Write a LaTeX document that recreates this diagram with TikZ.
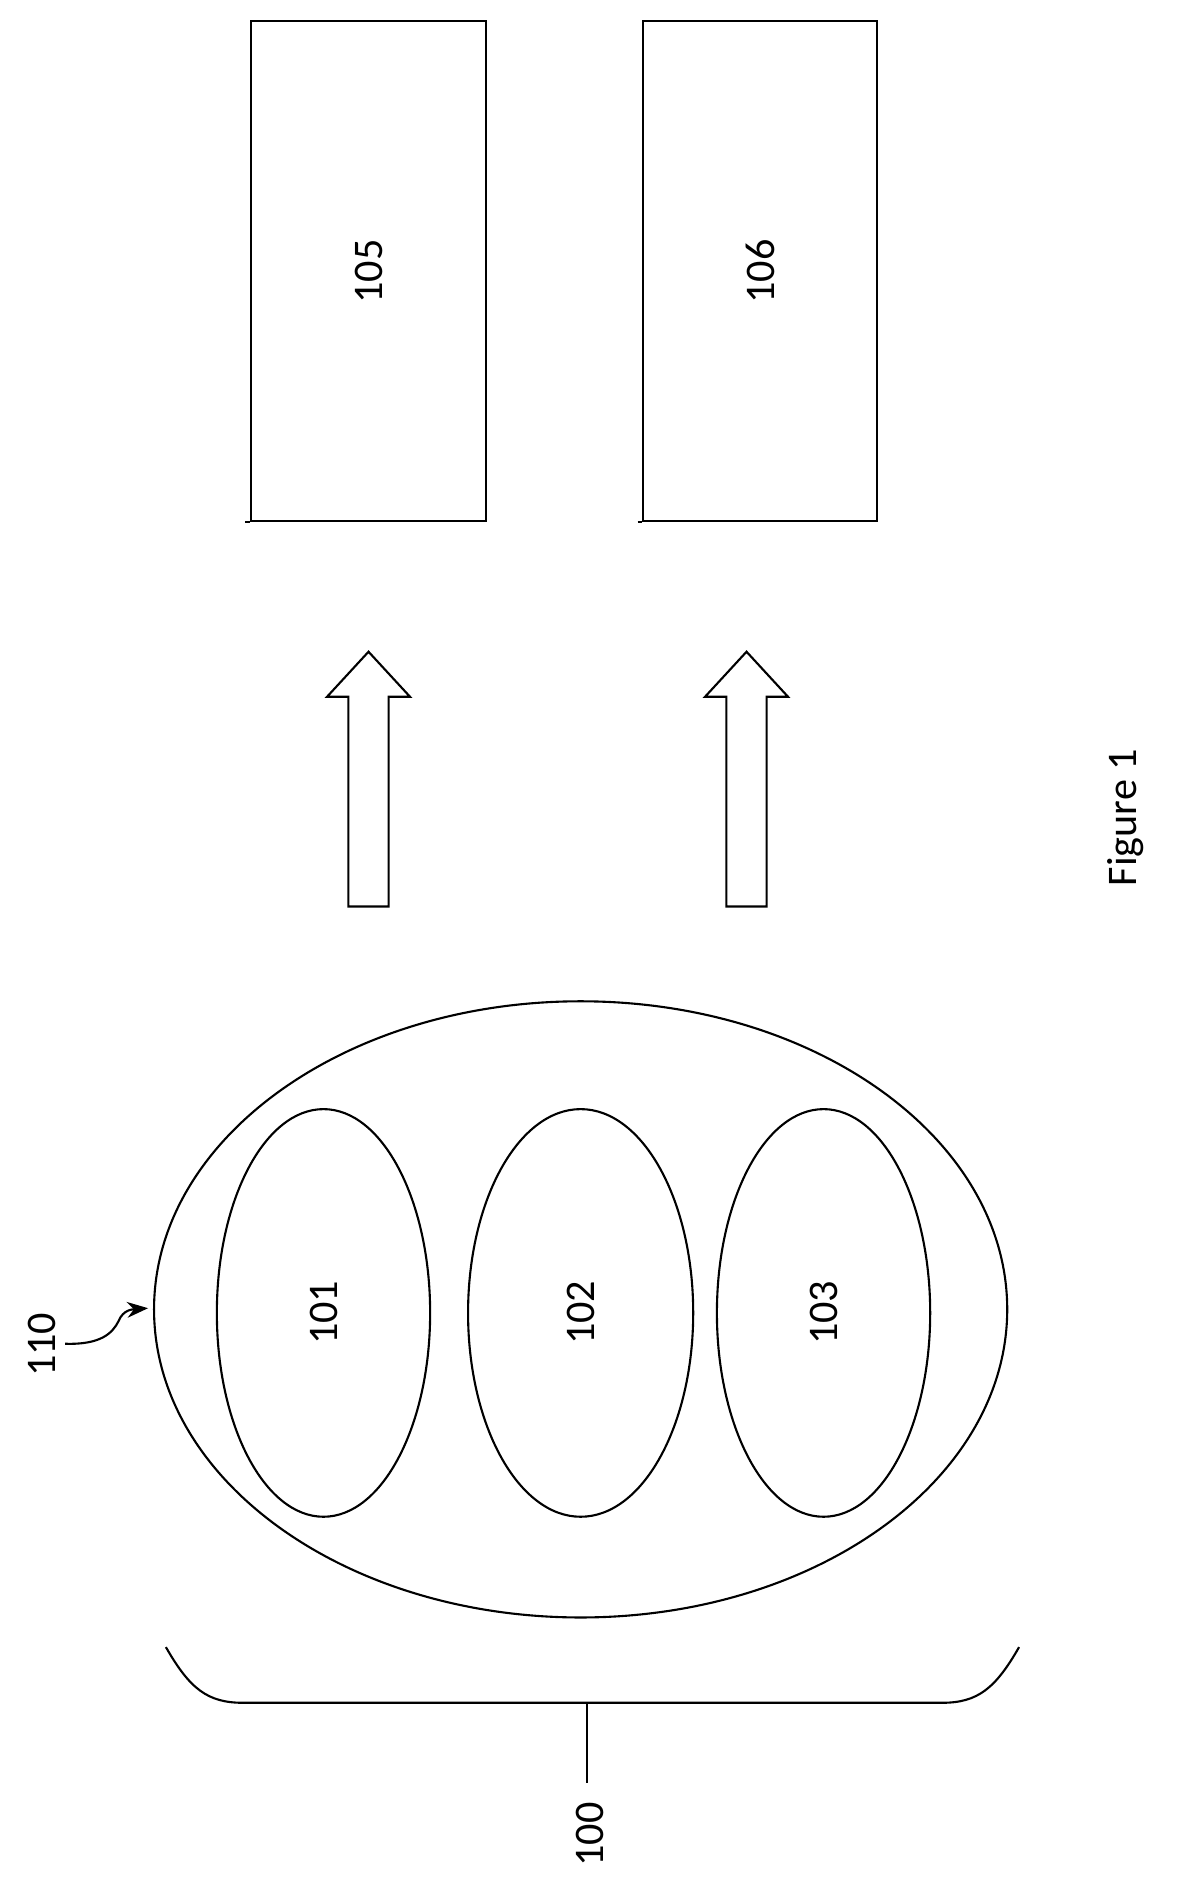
\documentclass[tikz,border=0pt]{standalone}
\usepackage{fontspec}
\setmainfont{Carlito}
\usetikzlibrary{shapes.geometric,arrows.meta}
\tikzset{
  blob/.style={ellipse, draw, line width=0.6pt, inner sep=0pt},
  panel/.style={rectangle, draw, line width=0.6pt, inner sep=0pt},
  tag/.style={rotate=90, font=\fontsize{12}{14}\selectfont},
  line/.style={line width=0.6pt}
}
\begin{document}
\begin{tikzpicture}[x=0.01185cm, y=-0.01185cm]
  \useasboundingbox (0,0) rectangle (1000,1595);
  % Panels
  \node [panel, minimum width=198*0.01185cm, minimum height=422*0.01185cm] (p105) at (311,229) {};
  \node [tag] at (p105.center) {105};
  \node [panel, minimum width=197*0.01185cm, minimum height=422*0.01185cm] (p106) at (641.5,229) {};
  \node [tag] at (p106.center) {106};
  \draw [line] (p105.south west) ++(-4,0) -- (p105.south west);
  \draw [line] (p106.south west) ++(-4,0) -- (p106.south west);

  % Block arrows
  \foreach \cx in {311,630}
    \draw [line] (\cx-17,765) -- (\cx-17,588) -- (\cx-35,588) -- (\cx,550)
      -- (\cx+35,588) -- (\cx+17,588) -- (\cx+17,765) -- cycle;

  % Outer and inner groups
  \node [blob, minimum width=720*0.01185cm, minimum height=520*0.01185cm] (g110) at (490,1105) {};
  \node [blob, minimum width=180*0.01185cm, minimum height=344*0.01185cm] (e101) at (273,1108) {};
  \node [tag] at (e101.center) {101};
  \node [blob, minimum width=190*0.01185cm, minimum height=344*0.01185cm] (e102) at (490,1108) {};
  \node [tag] at (e102.center) {102};
  \node [blob, minimum width=180*0.01185cm, minimum height=344*0.01185cm] (e103) at (695,1108) {};
  \node [tag] at (e103.center) {103};

  % Label 110
  \node [tag] (l110) at (35,1135) {110};
  \coordinate (t110) at (125,1104);
  \draw [line, -{Stealth[length=6pt]}] (55,1134) .. controls (85,1135) and (95,1125) .. (100,1115)
    .. controls (104,1105) and (112,1105) .. (t110);

  % Brace 100
  \coordinate (b100) at (495,1437);
  \draw [line] (140,1390) .. controls (160,1425) and (175,1437) .. (205,1437) -- (795,1437)
    .. controls (825,1437) and (840,1425) .. (860,1390);
  \node [tag] (l100) at (498,1548) {100};
  \draw [line] (b100) -- (495,1505);

  % Caption
  \node [tag] (cap) at (950,690) {Figure 1};
\end{tikzpicture}
\end{document}
